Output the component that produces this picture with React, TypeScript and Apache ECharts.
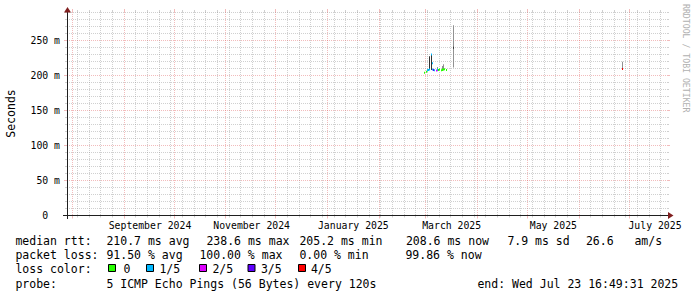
import React, { useEffect, useRef } from 'react';
import * as echarts from 'echarts';

// ---------- time frame ----------
const DAY = 86400000;
const END_TIME = Date.UTC(2025, 6, 23, 16, 49, 31);
const SPAN_DAYS = 360;
const START_TIME = END_TIME - SPAN_DAYS * DAY;
const COLUMN_MS = 0.6 * DAY;

// ---------- axes ----------
const Y_MAX = 0.29;
const yLabelValues = [0, 0.05, 0.1, 0.15, 0.2, 0.25];
const yLabelTexts = ['0', '50 m', '100 m', '150 m', '200 m', '250 m'];
const xLabelMonths = [[2024, 8], [2024, 10], [2025, 0], [2025, 2], [2025, 4], [2025, 6]];
const xLabelTexts = ['September 2024', 'November 2024', 'January 2025', 'March 2025', 'May 2025', 'July 2025'];

// ---------- data (consolidated rows) ----------
const sampleTimes = [
  '2025-02-28T12:00', '2025-03-01T02:30', '2025-03-01T17:00', '2025-03-02T07:00',
  '2025-03-02T21:30', '2025-03-03T12:00', '2025-03-04T02:30', '2025-03-04T17:00',
  '2025-03-05T07:00', '2025-03-05T21:30', '2025-03-06T12:00', '2025-03-07T02:30',
  '2025-03-07T17:00', '2025-03-08T07:00', '2025-03-08T21:30', '2025-03-09T12:00',
  '2025-03-10T02:30', '2025-03-10T17:00', '2025-03-11T07:00', '2025-03-11T21:30',
  '2025-03-12T12:00', '2025-03-13T02:30', '2025-03-17T07:15', '2025-06-26T16:50',
];
const medianMs = [
  203.5, 205, 206.5, 207, 207.5, 208, 229.5, 217,
  208, 207.5, 207, 206.5, 207, 208, 207.5, 208,
  207, 208, 207.5, 208, 208.5, 207.5, 238.6, 208.6,
];
// average number of lost pings (of 5)
const lostPings = [
  0, 0, 0, 1, 1, 1, 1, 1,
  1, 3, 1, 2, 2, 1, 0, 0,
  0, 0, 0, 0, 0, 0, 4.6, 4,
];
const smokeLowMs = [
  null, null, null, null, null, null, null, null,
  null, null, null, null, null, 207, null, null,
  null, 207, null, 207, null, null, 211, 208,
];
const smokeHighMs = [
  null, null, null, null, null, null, null, null,
  null, null, null, null, null, 211.5, null, null,
  null, 213, null, 215.5, null, null, 271, 219,
];
const coreLowMs = [
  null, null, null, null, null, 207.5, 207.5, null,
  null, null, null, null, null, null, null, null,
  null, null, null, null, null, null, 237.8, null,
];
const coreHighMs = [
  null, null, null, null, null, 227, 229.5, null,
  null, null, null, null, null, null, null, null,
  null, null, null, null, null, null, 240.5, null,
];

const lossLabels = ['0', '1/5', '2/5', '3/5', '4/5'];
const lossColors = ['#26ff00', '#00b8ff', '#dd00ff', '#5e00ff', '#ff0000'];

// ---------- legend texts ----------
const rttRow = ['median rtt:', '210.7 ms avg', '238.6 ms max', '205.2 ms min', '208.6 ms now', '7.9 ms sd', '26.6', 'am/s'];
const lossRow = ['packet loss:', '91.50 % avg', '100.00 % max', '0.00 % min', '99.86 % now'];
const probeRow = ['probe:', '5 ICMP Echo Pings (56 Bytes) every 120s', 'end: Wed Jul 23 16:49:31 2025'];

// layout (pixels)
const rttRowX = [16, 107, 207, 300, 406.5, 508, 586.5, 635];
const lossRowX = [16, 107, 200, 300, 406];
const probeRowX = [16, 107, 478];
const lossBoxX = [108, 146, 199, 247.5, 298];
const lossTextX = [124, 160, 213, 261.5, 311.5];

const MONO = '"DejaVu Sans Mono", "Liberation Mono", monospace';
const GRID_MINOR = 'rgba(143,143,143,0.42)';
const GRID_MAJOR = 'rgba(222,79,79,0.38)';
const SMOKE_OUTER = '#919191';
const SMOKE_INNER = '#323232';

function buildGridLines() {
  const lines: number[][] = [];
  const months: number[] = [];
  let y = 2024, m = 6;
  while (true) {
    const t = Date.UTC(y, m, 1);
    if (t > END_TIME) break;
    if (t >= START_TIME) months.push(t);
    m++;
    if (m > 11) { m = 0; y++; }
  }
  const d0 = new Date(START_TIME);
  let sun = Date.UTC(d0.getUTCFullYear(), d0.getUTCMonth(), d0.getUTCDate());
  while (new Date(sun).getUTCDay() !== 0 || sun < START_TIME) sun += DAY;
  for (let t = sun; t <= END_TIME; t += 7 * DAY) {
    if (months.indexOf(t) < 0) lines.push([0, t]);
  }
  months.forEach((t) => lines.push([1, t]));
  for (let i = 1; i <= 29; i++) {
    lines.push([i % 5 === 0 ? 3 : 2, i / 100]);
  }
  return lines;
}

export default function App() {
  const ref = useRef<HTMLDivElement>(null);
  useEffect(() => {
    if (!ref.current) return;
    const chart = echarts.init(ref.current, null, { renderer: 'svg', width: 697, height: 297 });
    const xLabelValues = xLabelMonths.map(([yy, mm]) => Date.UTC(yy, mm, 1) + 15.5 * DAY);
    const gridLines = buildGridLines();
    const sampleData = sampleTimes.map((s, i) => [Date.parse(s + 'Z'), medianMs[i] / 1000]);

    const graphics: any[] = [];
    const addText = (text: string, x: number, y: number) =>
      graphics.push({
        type: 'text', x: x - 0.6, y, silent: true,
        style: { text, font: `11.5px ${MONO}`, fill: '#000', align: 'left', verticalAlign: 'middle' },
      });
    rttRow.forEach((t, i) => addText(t, rttRowX[i], 241));
    lossRow.forEach((t, i) => addText(t, lossRowX[i], 255));
    addText('loss color:', 16, 269);
    lossLabels.forEach((t, i) => {
      graphics.push({
        type: 'rect', silent: true,
        shape: { x: lossBoxX[i] + 0.5, y: 264.5, width: 7, height: 7 },
        style: { fill: lossColors[i], stroke: '#000', lineWidth: 1 },
      });
      addText(t, lossTextX[i], 269);
    });
    probeRow.forEach((t, i) => addText(t, probeRowX[i], 283.5));
    // unit label
    graphics.push({
      type: 'text', x: 11, y: 113.5, rotation: Math.PI / 2, silent: true,
      style: { text: 'Seconds', font: `11.5px ${MONO}`, fill: '#000', align: 'center', verticalAlign: 'middle' },
    });
    // watermark
    graphics.push({
      type: 'text', x: 686, y: 4, rotation: -Math.PI / 2, silent: true,
      style: { text: 'RRDTOOL / TOBI OETIKER', font: `8.2px ${MONO}`, fill: '#b0b0b0', align: 'left', verticalAlign: 'middle' },
    });
    // axes + arrows
    graphics.push({ type: 'line', silent: true, z: 10, shape: { x1: 67.5, y1: 219, x2: 67.5, y2: 10 }, style: { stroke: '#1f1f1f', lineWidth: 1 } });
    graphics.push({ type: 'line', silent: true, z: 10, shape: { x1: 63, y1: 215.5, x2: 669, y2: 215.5 }, style: { stroke: '#1f1f1f', lineWidth: 1 } });
    graphics.push({ type: 'polygon', silent: true, z: 10, shape: { points: [[64, 12.5], [71, 12.5], [67.5, 7]] }, style: { fill: '#801f1f' } });
    graphics.push({ type: 'polygon', silent: true, z: 10, shape: { points: [[668, 212], [668, 219], [673.5, 215.5]] }, style: { fill: '#801f1f' } });

    const option: any = {
      animation: false,
      backgroundColor: '#ffffff',
      grid: { left: 67, top: 12, width: 600, height: 203.5, containLabel: false },
      xAxis: {
        type: 'value', min: START_TIME, max: END_TIME,
        axisLine: { show: false }, axisTick: { show: false }, splitLine: { show: false },
        axisLabel: {
          customValues: xLabelValues,
          formatter: (v: number) => {
            const idx = xLabelValues.findIndex((x) => Math.abs(x - v) < 1000);
            return idx >= 0 ? xLabelTexts[idx] : '';
          },
          margin: 5, fontFamily: MONO, fontSize: 9.8, color: '#000',
        },
      },
      yAxis: {
        type: 'value', min: 0, max: Y_MAX,
        axisLine: { show: false }, axisTick: { show: false }, splitLine: { show: false },
        axisLabel: {
          customValues: yLabelValues,
          formatter: (v: number) => {
            const idx = yLabelValues.findIndex((x) => Math.abs(x - v) < 1e-9);
            if (idx < 0) return '';
            return yLabelTexts[idx].indexOf(' ') < 0 ? `{n|${yLabelTexts[idx]}}` : yLabelTexts[idx];
          },
          rich: { n: { fontFamily: MONO, fontSize: 9.8, color: '#000', padding: [0, 11.8, 0, 0] } },
          margin: 7, fontFamily: MONO, fontSize: 9.8, color: '#000',
        },
      },
      graphic: graphics,
      series: [
        {
          type: 'custom', silent: true, z: 1,
          data: gridLines,
          renderItem: (params: any, api: any) => {
            const kind = api.value(0);
            const v = api.value(1);
            const major = kind === 1 || kind === 3;
            const color = major ? GRID_MAJOR : GRID_MINOR;
            const stub = major ? 3 : 2;
            if (kind < 2) {
              const pb = api.coord([v, 0]);
              const pt = api.coord([v, Y_MAX]);
              const px = Math.floor(pb[0]) + 0.5;
              return {
                type: 'group', children: [
                  { type: 'line', shape: { x1: px, y1: pt[1], x2: px, y2: pb[1] }, style: { stroke: color, lineWidth: 1, lineDash: [1, 1] } },
                  { type: 'line', shape: { x1: px, y1: pb[1], x2: px, y2: pb[1] + stub }, style: { stroke: color, lineWidth: 1 } },
                  { type: 'line', shape: { x1: px, y1: pt[1] - stub, x2: px, y2: pt[1] }, style: { stroke: color, lineWidth: 1 } },
                ],
              };
            }
            const pl = api.coord([START_TIME, v]);
            const pr = api.coord([END_TIME, v]);
            const py = Math.floor(pl[1]) + 0.5;
            return {
              type: 'group', children: [
                { type: 'line', shape: { x1: pl[0], y1: py, x2: pr[0], y2: py }, style: { stroke: color, lineWidth: 1, lineDash: [1, 1] } },
                { type: 'line', shape: { x1: pl[0] - stub, y1: py, x2: pl[0], y2: py }, style: { stroke: color, lineWidth: 1 } },
                { type: 'line', shape: { x1: pr[0], y1: py, x2: pr[0] + stub, y2: py }, style: { stroke: color, lineWidth: 1 } },
              ],
            };
          },
        },
        {
          type: 'custom', silent: true, z: 5,
          data: sampleData,
          renderItem: (params: any, api: any) => {
            const i = params.dataIndex;
            const t = api.value(0);
            const w = Math.max(1, Math.round(api.size([COLUMN_MS, 0])[0]));
            const cx = api.coord([t, 0])[0];
            const x = Math.round(cx - w / 2);
            const children: any[] = [];
            const band = (lo: number | null, hi: number | null, fill: string) => {
              if (lo == null || hi == null) return;
              const yt = api.coord([t, hi / 1000])[1];
              const yb = api.coord([t, lo / 1000])[1];
              children.push({ type: 'rect', shape: { x, y: yt, width: w, height: Math.max(1, yb - yt) }, style: { fill } });
            };
            band(smokeLowMs[i], smokeHighMs[i], SMOKE_OUTER);
            band(coreLowMs[i], coreHighMs[i], SMOKE_INNER);
            const bucket = Math.ceil(lostPings[i]);
            if (bucket >= 0 && bucket < lossColors.length) {
              const ym = api.coord([t, medianMs[i] / 1000])[1];
              children.push({ type: 'rect', shape: { x, y: ym - 1, width: w, height: 2 }, style: { fill: lossColors[bucket] } });
            }
            return { type: 'group', children };
          },
        },
      ],
    };
    chart.setOption(option);
    return () => chart.dispose();
  }, []);
  return <div ref={ref} style={{ position: 'absolute', left: 0, top: 0, width: 697, height: 297, background: '#fff' }} />;
}
